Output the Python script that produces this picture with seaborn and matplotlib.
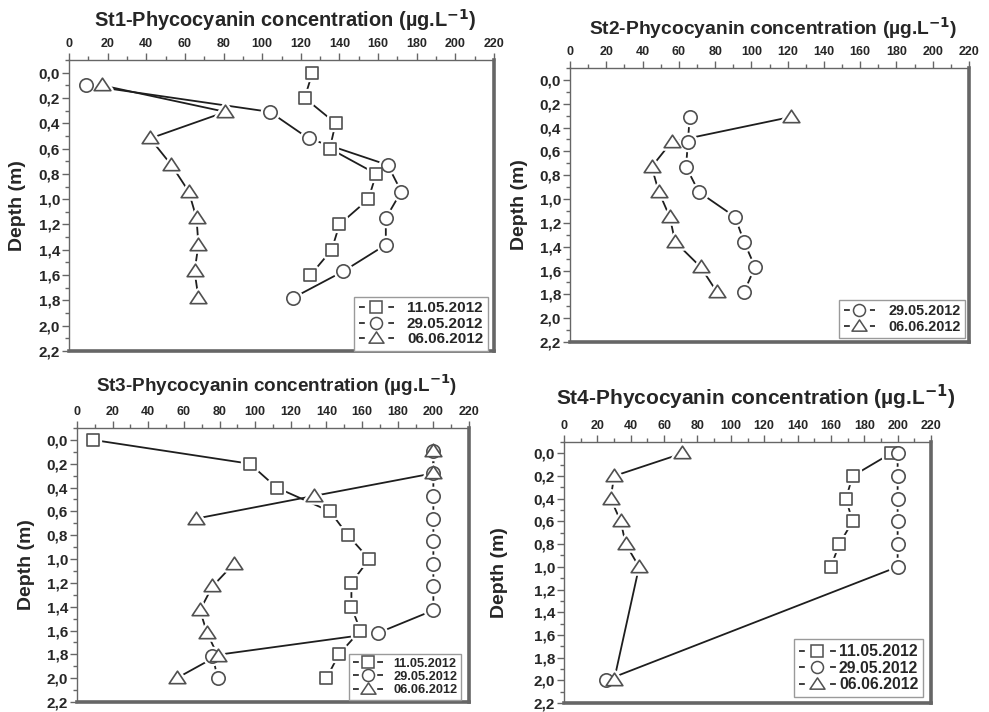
import numpy as np
import pandas as pd
import matplotlib
matplotlib.use("Agg")
import matplotlib.pyplot as plt
from matplotlib.path import Path
from matplotlib.lines import Line2D
from matplotlib.legend_handler import HandlerTuple
from matplotlib.ticker import MultipleLocator, FuncFormatter
import seaborn as sns

sns.set_style("white")
plt.rcParams["font.family"] = ["Liberation Sans", "DejaVu Sans"]
plt.rcParams["font.weight"] = "bold"
plt.rcParams["mathtext.default"] = "bf"

# ---------------- data ----------------
dates = ["11.05.2012", "29.05.2012", "06.06.2012"]

# St1
st1_sq_depth = [0.0, 0.2, 0.4, 0.6, 0.8, 1.0, 1.2, 1.4, 1.6]
st1_sq = [126, 122, 138, 135, 159, 155, 140, 136, 125]
st1_ci_depth = [0.1, 0.31, 0.52, 0.73, 0.94, 1.15, 1.36, 1.57, 1.78]
st1_ci = [9, 104, 124, 165, 172, 164, 164, 142, 116]
st1_tr_depth = [0.1, 0.31, 0.52, 0.73, 0.94, 1.15, 1.36, 1.57, 1.78]
st1_tr = [17, 81, 42, 53, 62, 66, 67, 65, 67]

# St2
st2_ci_depth = [0.31, 0.52, 0.73, 0.94, 1.15, 1.36, 1.57, 1.78]
st2_ci = [66, 65, 64, 71, 91, 96, 102, 96]
st2_tr_depth = [0.31, 0.52, 0.73, 0.94, 1.15, 1.36, 1.57, 1.78]
st2_tr = [122, 56, 45, 49, 55, 58, 72, 81]

# St3
st3_sq_depth = [0.0, 0.2, 0.4, 0.6, 0.8, 1.0, 1.2, 1.4, 1.6, 1.8, 2.0]
st3_sq = [9, 97, 112, 142, 152, 164, 154, 154, 159, 147, 140]
st3_ci_depth = [0.09, 0.28, 0.47, 0.66, 0.85, 1.04, 1.23, 1.43, 1.62, 1.81, 2.0]
st3_ci = [200, 200, 200, 200, 200, 200, 200, 200, 169, 76, 79]
st3_tr_depth = [0.09, 0.28, 0.47, 0.66, 0.85, 1.04, 1.23, 1.43, 1.62, 1.81, 2.0]
st3_tr = [200, 200, 133, 67, np.nan, 88, 76, 69, 73, 79, 56]

# St4
st4_sq_depth = [0.0, 0.2, 0.4, 0.6, 0.8, 1.0]
st4_sq = [196, 173, 169, 173, 165, 160]
st4_ci_depth = [0.0, 0.2, 0.4, 0.6, 0.8, 1.0, 2.0]
st4_ci = [200, 200, 200, 200, 200, 200, 25]
st4_tr_depth = [0.0, 0.2, 0.4, 0.6, 0.8, 1.0, 2.0]
st4_tr = [71, 30, 28, 34, 37, 45, 30]

titles = ["St1-Phycocyanin concentration (µg.L$^{-1}$)",
          "St2-Phycocyanin concentration (µg.L$^{-1}$)",
          "St3-Phycocyanin concentration (µg.L$^{-1}$)",
          "St4-Phycocyanin concentration (µg.L$^{-1}$)"]

# ---------------- styling ----------------
tri = Path([(-1.0, -0.62), (1.0, -0.62), (0.0, 0.88), (-1.0, -0.62)],
           [Path.MOVETO, Path.LINETO, Path.LINETO, Path.CLOSEPOLY])
MARK = {"11.05.2012": ("s", 9.0), "29.05.2012": ("o", 9.6), "06.06.2012": (tri, 12.0)}
LINEC = "#1e1e1e"
EDGEC = "#505050"
SPINEC = "#666666"

fig = plt.figure(figsize=(9.89, 7.12), dpi=100)
W, H = 989, 712


def add_ax(l, t, r, b):
    return fig.add_axes([l / W, (H - b) / H, (r - l) / W, (b - t) / H])


def make_df(series):
    frames = []
    for date, depth, conc in series:
        conc = np.asarray(conc, dtype=float)
        seg = np.cumsum(np.isnan(conc))
        df = pd.DataFrame({"depth": depth, "conc": conc, "date": date,
                           "seg": [f"{date}-{s}" for s in seg]})
        frames.append(df.dropna())
    return pd.concat(frames, ignore_index=True)


def panel(ax, series, title, title_xy, title_fs, ylab_x, leg_anchor, leg_fs,
          leg_hl, leg_tp):
    df = make_df(series)
    sns.lineplot(data=df, x="conc", y="depth", units="seg", estimator=None,
                 sort=False, color=LINEC, lw=1.3, ax=ax, legend=False, zorder=2)
    for date in [s[0] for s in series]:
        sub = df[df["date"] == date]
        m, ms = MARK[date]
        # white halo (gap between line and marker)
        sns.scatterplot(data=sub, x="conc", y="depth", marker=m, s=ms ** 2,
                        color="white", edgecolor="white", linewidth=4.5,
                        ax=ax, legend=False, zorder=3)
        sns.scatterplot(data=sub, x="conc", y="depth", marker=m, s=ms ** 2,
                        color="white", edgecolor=EDGEC, linewidth=1.2,
                        ax=ax, legend=False, zorder=4)
    ax.set_xlim(0, 220)
    ax.set_ylim(2.2, -0.1)
    ax.xaxis.set_major_locator(MultipleLocator(20))
    ax.xaxis.set_minor_locator(MultipleLocator(10))
    ax.yaxis.set_major_locator(MultipleLocator(0.2))
    ax.yaxis.set_minor_locator(MultipleLocator(0.1))
    ax.yaxis.set_major_formatter(FuncFormatter(lambda v, p: f"{v:.1f}".replace(".", ",").replace("-0,0", "0,0")))
    ax.xaxis.set_major_formatter(FuncFormatter(lambda v, p: f"{v:.0f}"))
    ax.xaxis.tick_top()
    ax.tick_params(axis="x", which="major", top=True, bottom=False, length=5,
                   width=1, color=SPINEC, labelsize=9, pad=2)
    ax.tick_params(axis="x", which="minor", top=True, bottom=False, length=3,
                   width=1, color=SPINEC)
    ax.tick_params(axis="y", which="major", left=True, length=5, width=1,
                   color=SPINEC, labelsize=11, pad=1.5)
    ax.tick_params(axis="y", which="minor", left=True, length=3, width=1,
                   color=SPINEC)
    for lab in ax.get_xticklabels() + ax.get_yticklabels():
        lab.set_fontweight("bold")
    for side, sp in ax.spines.items():
        sp.set_color(SPINEC)
        sp.set_linewidth(2.6 if side in ("right", "bottom") else 1.0)
    ax.set_xlabel("")
    ax.set_ylabel("Depth (m)", fontsize=14, fontweight="bold")
    ax.yaxis.set_label_coords(ylab_x, 0.5)
    ax.text(title_xy[0], title_xy[1], title, transform=ax.transAxes,
            ha="center", va="center", fontsize=title_fs, fontweight="bold")

    # legend handles: short dash - marker - short dash
    lw = 1.2
    L = leg_hl * leg_fs          # handle length in points
    a = 4.2                      # dash length in points
    dash = (0, (a / lw, (L - 2 * a) / lw))
    handles, labels = [], []
    for date in [s[0] for s in series]:
        m, ms = MARK[date]
        lms = ms * 0.9
        h1 = Line2D([], [], color=LINEC, lw=lw, ls=dash)
        h2 = Line2D([], [], ls="none", marker=m, ms=lms, mfc="white",
                    mec=EDGEC, mew=1.1)
        handles.append((h1, h2))
        labels.append(date)
    leg = ax.legend(handles, labels, handler_map={tuple: HandlerTuple(ndivide=1)},
                    loc="lower right", bbox_to_anchor=leg_anchor,
                    borderaxespad=0, frameon=True, fancybox=False,
                    edgecolor="#9a9a9a", framealpha=1, numpoints=1,
                    handlelength=leg_hl, handletextpad=leg_tp, labelspacing=0.1,
                    borderpad=0.3, prop={"weight": "bold", "size": leg_fs})
    leg.get_frame().set_linewidth(1.0)
    leg.set_zorder(10)


ax1 = add_ax(69, 60, 494, 351)
panel(ax1, [("11.05.2012", st1_sq_depth, st1_sq),
            ("29.05.2012", st1_ci_depth, st1_ci),
            ("06.06.2012", st1_tr_depth, st1_tr)],
      titles[0], (0.508, 1.137), 14.4, -43 / 425, (1 - 6 / 425, 0.0),
      11, 2.3, 0.85)

ax2 = add_ax(570, 68, 969, 342)
panel(ax2, [("29.05.2012", st2_ci_depth, st2_ci),
            ("06.06.2012", st2_tr_depth, st2_tr)],
      titles[1], (0.509, 1.146), 13.9, -42 / 399, (1 - 4 / 399, 4 / 274),
      10.4, 2.2, 0.9)

ax3 = add_ax(77, 428, 469, 702)
panel(ax3, [("11.05.2012", st3_sq_depth, st3_sq),
            ("29.05.2012", st3_ci_depth, st3_ci),
            ("06.06.2012", st3_tr_depth, st3_tr)],
      titles[2], (0.508, 1.157), 13.6, -42 / 392, (1 - 8 / 392, 2 / 274),
      9.2, 2.35, 0.8)

ax4 = add_ax(564, 442, 931, 703)
panel(ax4, [("11.05.2012", st4_sq_depth, st4_sq),
            ("29.05.2012", st4_ci_depth, st4_ci),
            ("06.06.2012", st4_tr_depth, st4_tr)],
      titles[3], (0.523, 1.172), 15.0, -56 / 367, (1 - 8 / 367, 6 / 261),
      11.3, 2.35, 0.2)

fig.savefig("out.png", dpi=100, facecolor="white")
